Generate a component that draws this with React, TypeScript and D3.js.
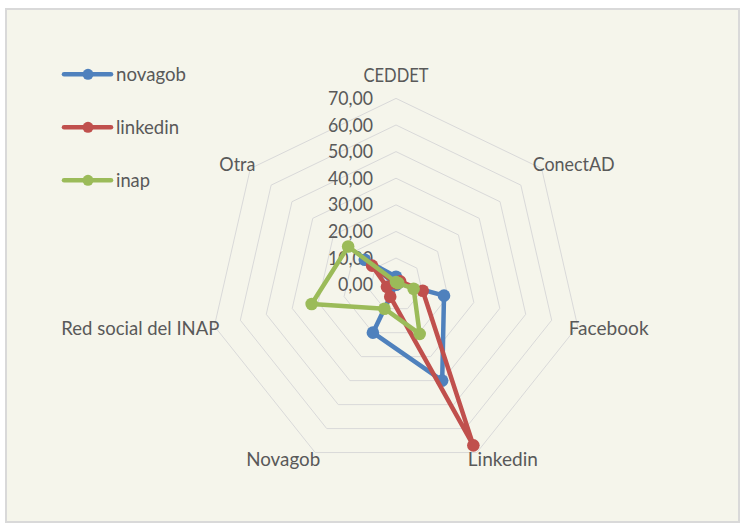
import React from "react";
import * as d3 from "d3";

const categories = ["CEDDET", "ConectAD", "Facebook", "Linkedin", "Novagob", "Red social del INAP", "Otra"];
const seriesNames = ["novagob", "linkedin", "inap"];
const novagobValues = [3, 1, 18.5, 40, 20, 0, 15];
const linkedinValues = [0.5, 2, 10.3, 67, 5, 3.5, 11.5];
const inapValues = [1, 1, 6.8, 20.5, 10, 32.5, 23];
const tickValues = [0, 10, 20, 30, 40, 50, 60, 70];

const W = 740;
const H = 526;
const cx = 396;
const cy = 284.7;
const R = 186.3;
const colors = ["#4F81BD", "#C0504D", "#9BBB59"];
const textColor = "#595959";
const font = "Lato, 'Open Sans', sans-serif";

const labelWidths: Record<string, number> = {
  CEDDET: 65,
  ConectAD: 82,
  Facebook: 80,
  Linkedin: 70,
  Novagob: 74,
  "Red social del INAP": 158,
  Otra: 36,
};
const legendWidths = [70, 63, 34];

export default function App() {
  const r = d3.scaleLinear().domain([0, 70]).range([0, R]);
  const n = categories.length;
  const angle = (i: number) => (i * 2 * Math.PI) / n;
  const pt = (i: number, v: number): [number, number] => [
    cx + r(v) * Math.sin(angle(i)),
    cy - r(v) * Math.cos(angle(i)),
  ];
  const allSeries = [novagobValues, linkedinValues, inapValues];
  const lineGen = d3.line<[number, number]>().curve(d3.curveLinearClosed);

  return (
    <div style={{ position: "absolute", left: 0, top: 0 }}>
      <svg width={W} height={H} style={{ display: "block" }}>
        <rect x={0} y={0} width={W} height={H} fill="#ffffff" />
        <rect x={6} y={9} width={733} height={513} fill="#F5F5EB" stroke="#D9D9D9" strokeWidth={2} />
        {tickValues.filter((t) => t > 0).map((t) => (
          <path
            key={"g" + t}
            d={lineGen(categories.map((_, i) => pt(i, t))) || ""}
            fill="none"
            stroke="#D9D9D9"
            strokeWidth={1}
          />
        ))}
        {tickValues.map((t) => {
          const s = d3.format(".2f")(t).replace(".", ",");
          return (
            <text
              key={"t" + t}
              x={cx - 23}
              y={cy - r(t) + 6.5}
              textAnchor="end"
              fontFamily={font}
              fontSize={18.5}
              fill={textColor}
              textLength={s.length === 4 ? 35 : 45}
              lengthAdjust="spacingAndGlyphs"
            >
              {s}
            </text>
          );
        })}
        {categories.map((c, i) => {
          const [vx, vy] = pt(i, 70);
          const sn = Math.sin(angle(i));
          const cs = Math.cos(angle(i));
          let x = vx;
          let y = vy + 7 - 7 * cs;
          let anchor: "start" | "middle" | "end" = "middle";
          if (i === 0) {
            y = vy - 16;
          } else if (sn > 0) {
            anchor = "start";
            x = vx - 9;
          } else {
            anchor = "end";
            x = vx + 5;
          }
          return (
            <text
              key={c}
              x={x}
              y={y}
              textAnchor={anchor}
              fontFamily={font}
              fontSize={20}
              fill={textColor}
              textLength={labelWidths[c]}
              lengthAdjust="spacingAndGlyphs"
            >
              {c}
            </text>
          );
        })}
        {allSeries.map((vals, si) => {
          const pts = vals.map((v, i) => pt(i, v));
          return (
            <g key={"s" + si}>
              <path d={lineGen(pts) || ""} fill="none" stroke={colors[si]} strokeWidth={4.5} strokeLinejoin="round" />
              {pts.map((p, i) => (
                <circle key={i} cx={p[0]} cy={p[1]} r={6.3} fill={colors[si]} />
              ))}
            </g>
          );
        })}
        {seriesNames.map((name, si) => {
          const y = 74.3 + si * 53;
          return (
            <g key={name}>
              <line x1={64} x2={111} y1={y} y2={y} stroke={colors[si]} strokeWidth={4.5} strokeLinecap="round" />
              <circle cx={88} cy={y} r={5.5} fill={colors[si]} />
              <text
                x={116}
                y={y + 6.5}
                fontFamily={font}
                fontSize={20}
                fill={textColor}
                textLength={legendWidths[si]}
                lengthAdjust="spacingAndGlyphs"
              >
                {name}
              </text>
            </g>
          );
        })}
      </svg>
    </div>
  );
}
